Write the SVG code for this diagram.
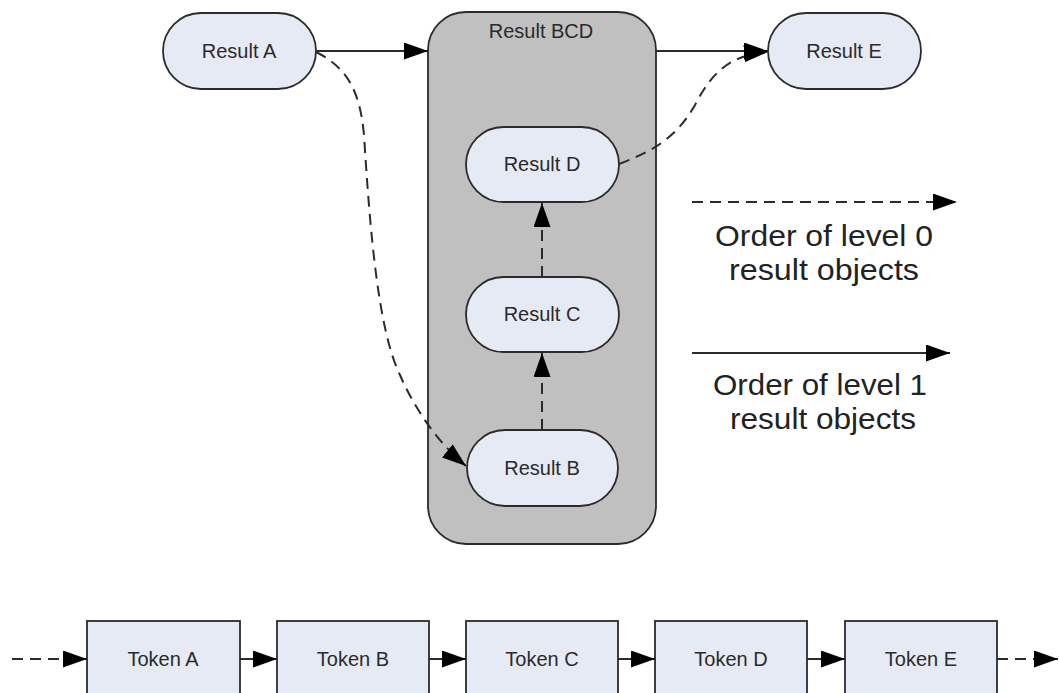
<svg xmlns="http://www.w3.org/2000/svg" width="1059" height="693" viewBox="0 0 1059 693">
  <defs>
    <marker id="arrow" markerUnits="userSpaceOnUse" markerWidth="26" markerHeight="18" refX="24" refY="8.5" orient="auto">
      <path d="M0,0 L24,8.5 L0,17 Z" fill="#000"/>
    </marker>
    <style>
      .node { fill: #e6eaf5; stroke: #2b2b2b; stroke-width: 1.8; }
      .group { fill: #c0c0c0; stroke: #2b2b2b; stroke-width: 1.8; }
      .lbl { font-family: "Liberation Sans", Arial, sans-serif; font-size: 20px; fill: #2a2a2a; text-anchor: middle; dominant-baseline: central; }
      .legend { font-family: "Liberation Sans", Arial, sans-serif; font-size: 30px; fill: #222; text-anchor: middle; }
      .solid { fill: none; stroke: #2b2b2b; stroke-width: 2; marker-end: url(#arrow); }
      .dash { fill: none; stroke: #2b2b2b; stroke-width: 2; stroke-dasharray: 11 7; marker-end: url(#arrow); }
    </style>
  </defs>

  <rect width="1059" height="693" fill="#fff"/>

  <!-- container for the level 1 result -->
  <g id="result-bcd">
    <rect class="group" x="428" y="12" width="228" height="532" rx="38"/>
    <text class="lbl" x="541" y="31">Result BCD</text>
  </g>

  <g id="result-a">
    <rect class="node" x="163" y="13" width="153" height="76" rx="38"/>
    <text class="lbl" x="239" y="51">Result A</text>
  </g>
  <g id="result-e">
    <rect class="node" x="768" y="13" width="153" height="76" rx="38"/>
    <text class="lbl" x="844" y="51">Result E</text>
  </g>
  <g id="result-d">
    <rect class="node" x="466" y="127" width="153" height="75" rx="37.5"/>
    <text class="lbl" x="542" y="164">Result D</text>
  </g>
  <g id="result-c">
    <rect class="node" x="466" y="277" width="153" height="75" rx="37.5"/>
    <text class="lbl" x="542" y="314">Result C</text>
  </g>
  <g id="result-b">
    <rect class="node" x="467" y="430" width="151" height="76" rx="38"/>
    <text class="lbl" x="542" y="468">Result B</text>
  </g>

  <!-- token row -->
  <g id="token-a">
    <rect class="node" x="87" y="621" width="153" height="100"/>
    <text class="lbl" x="163" y="659">Token A</text>
  </g>
  <g id="token-b">
    <rect class="node" x="277" y="621" width="152" height="100"/>
    <text class="lbl" x="353" y="659">Token B</text>
  </g>
  <g id="token-c">
    <rect class="node" x="466" y="621" width="152" height="100"/>
    <text class="lbl" x="542" y="659">Token C</text>
  </g>
  <g id="token-d">
    <rect class="node" x="655" y="621" width="152" height="100"/>
    <text class="lbl" x="731" y="659">Token D</text>
  </g>
  <g id="token-e">
    <rect class="node" x="845" y="621" width="152" height="100"/>
    <text class="lbl" x="921" y="659">Token E</text>
  </g>

  <!-- connectors -->
  <g id="connectors">
    <line class="solid" x1="316" y1="51" x2="428" y2="51"/>
    <line class="solid" x1="656" y1="51" x2="768" y2="51"/>
    <path class="dash" d="M316,52 C348,68 360,92 364,135 C370,230 378,330 400,375 C415,410 440,445 466,466"/>
    <path class="dash" d="M619,164 C650,152 675,140 695,105 C712,72 730,55 768,52"/>
    <line class="dash" x1="542" y1="277" x2="542" y2="203"/>
    <line class="dash" x1="542" y1="430" x2="542" y2="353"/>

    <line class="dash" x1="12" y1="659" x2="87" y2="659"/>
    <line class="solid" x1="240" y1="659" x2="277" y2="659"/>
    <line class="solid" x1="429" y1="659" x2="466" y2="659"/>
    <line class="solid" x1="618" y1="659" x2="655" y2="659"/>
    <line class="solid" x1="807" y1="659" x2="845" y2="659"/>
    <line class="dash" x1="997" y1="659" x2="1058" y2="659"/>
  </g>

  <!-- legend -->
  <g id="legend">
    <line class="dash" x1="692" y1="202" x2="957" y2="202"/>
    <text class="legend" x="824" y="246" textLength="218" lengthAdjust="spacingAndGlyphs">Order of level 0</text>
    <text class="legend" x="824" y="280" textLength="190" lengthAdjust="spacingAndGlyphs">result objects</text>
    <line class="solid" x1="692" y1="353" x2="950" y2="353"/>
    <text class="legend" x="820" y="395" textLength="214" lengthAdjust="spacingAndGlyphs">Order of level 1</text>
    <text class="legend" x="823" y="429" textLength="186" lengthAdjust="spacingAndGlyphs">result objects</text>
  </g>
</svg>
